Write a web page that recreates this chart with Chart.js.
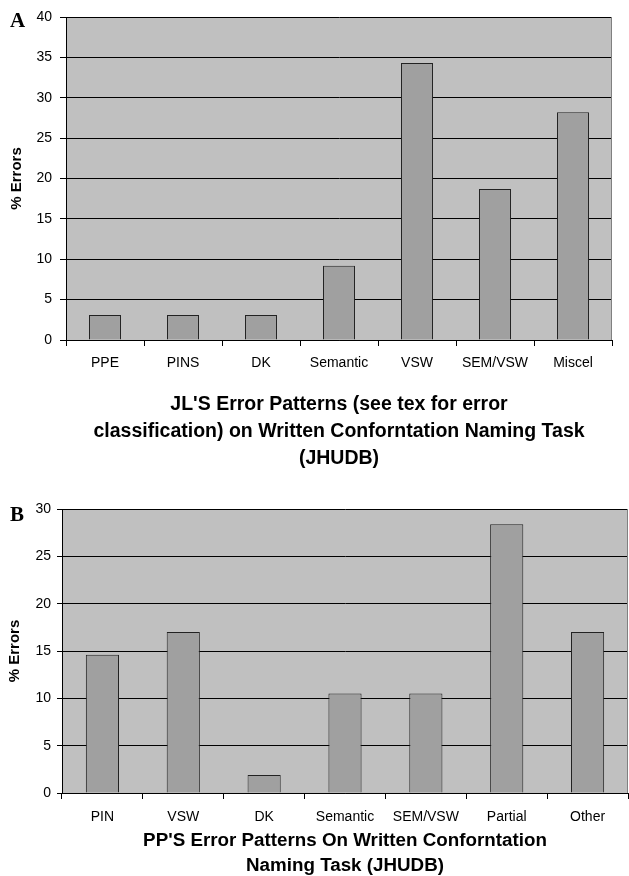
<!DOCTYPE html>
<html>
<head>
<meta charset="utf-8">
<script src="https://cdn.jsdelivr.net/npm/chart.js@4/dist/chart.umd.min.js"></script>
<style>
  html, body { margin: 0; padding: 0; background: #fff; overflow: hidden; }
  canvas { position: absolute; left: 0; }
  #chart-a { top: 0; }
  #chart-b { top: 470px; }
</style>
</head>
<body>
<canvas id="chart-a" width="629" height="470"></canvas>
<canvas id="chart-b" width="629" height="406"></canvas>
<script>
"use strict";

const labelsA = ["PPE", "PINS", "DK", "Semantic", "VSW", "SEM/VSW", "Miscel"];
const valuesA = [3.1, 3.1, 3.1, 9.2, 34.3, 18.7, 28.2];
const titleA = [
  "JL'S Error Patterns (see tex for error",
  "classification) on Written Conforntation Naming Task",
  "(JHUDB)"
];

const labelsB = ["PIN", "VSW", "DK", "Semantic", "SEM/VSW", "Partial", "Other"];
const valuesB = [14.6, 17.0, 1.9, 10.5, 10.5, 28.4, 17.0];
const titleB = [
  "PP'S Error Patterns On Written Conforntation",
  "Naming Task (JHUDB)"
];

const FONT = "Arial, 'Liberation Sans', Helvetica, sans-serif";

// grey plot area + grey right border, panel letter
const plotFrame = {
  id: "plotFrame",
  beforeDraw(chart) {
    const { ctx, chartArea: a } = chart;
    ctx.save();
    ctx.fillStyle = "#c0c0c0";
    ctx.fillRect(a.left, a.top, a.right - a.left, a.bottom - a.top);
    ctx.restore();
  },
  afterDraw(chart, args, opts) {
    const { ctx, chartArea: a } = chart;
    ctx.save();
    ctx.strokeStyle = "#808080";
    ctx.lineWidth = 1;
    ctx.beginPath();
    ctx.moveTo(a.right - 0.5, a.top);
    ctx.lineTo(a.right - 0.5, a.bottom);
    ctx.stroke();
    ctx.fillStyle = "#000";
    ctx.font = "bold 21px 'Liberation Serif', 'Times New Roman', serif";
    ctx.textBaseline = "alphabetic";
    ctx.fillText(opts.letter, opts.lx, opts.ly);
    ctx.restore();
  }
};

function makeChart(el, cfg) {
  return new Chart(el, {
    type: "bar",
    data: {
      labels: cfg.labels,
      datasets: [{
        data: cfg.values,
        backgroundColor: "#a0a0a0",
        borderColor: "#222",
        borderWidth: 1,
        barPercentage: 0.41,
        categoryPercentage: 1
      }]
    },
    plugins: [plotFrame],
    options: {
      responsive: false,
      animation: false,
      layout: { padding: { top: cfg.top, right: cfg.right, left: 0, bottom: 0 } },
      plugins: {
        legend: { display: false },
        tooltip: { enabled: false },
        plotFrame: { letter: cfg.letter, lx: 10, ly: cfg.ly }
      },
      scales: {
        x: {
          afterFit: (s) => { s.height = cfg.xHeight; },
          grid: { drawOnChartArea: false, color: "#000", tickLength: 6, offset: true },
          border: { color: "#000" },
          ticks: { color: "#000", font: { family: FONT, size: 14 }, padding: cfg.xPad, maxRotation: 0, autoSkip: false },
          title: {
            display: true,
            text: cfg.title,
            color: "#000",
            font: { family: FONT, size: cfg.titleSize, weight: "bold", lineHeight: cfg.titleLh },
            padding: { top: 0, bottom: cfg.titlePad }
          }
        },
        y: {
          min: 0,
          max: cfg.max,
          afterFit: (s) => { s.width = cfg.yWidth; },
          grid: { color: "#000", lineWidth: 1, tickLength: cfg.yTick },
          border: { color: "#000" },
          ticks: { stepSize: 5, color: "#000", font: { family: FONT, size: 14 }, padding: cfg.yPad },
          title: {
            display: true,
            text: "% Errors",
            color: "#000",
            font: { family: FONT, size: 15, weight: "bold" },
            padding: { top: cfg.yTitlePad, bottom: 0 }
          }
        }
      }
    }
  });
}

makeChart(document.getElementById("chart-a"), {
  labels: labelsA, values: valuesA, title: titleA, max: 40, letter: "A", ly: 27,
  top: 17, right: 17, xHeight: 130, yWidth: 66, xPad: 9, yPad: 8, yTick: 6,
  titleSize: 19.5, titleLh: 1.38, titlePad: -2, yTitlePad: 8
});

makeChart(document.getElementById("chart-b"), {
  labels: labelsB, values: valuesB, title: titleB, max: 30, letter: "B", ly: 51,
  top: 39, right: 1, xHeight: 83, yWidth: 62, xPad: 10, yPad: 6, yTick: 5,
  titleSize: 18.8, titleLh: 1.33, titlePad: -2, yTitlePad: 6
});
</script>
</body>
</html>
